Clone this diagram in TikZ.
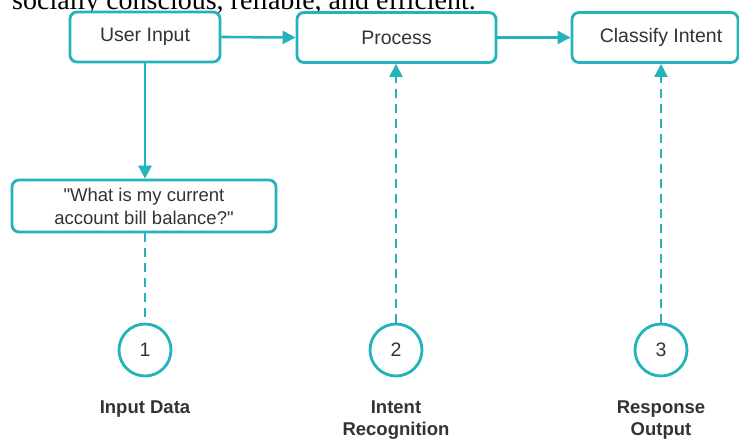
\documentclass[tikz,border=0pt]{standalone}
\usepackage{fontspec}
\setmainfont{Liberation Sans}
\newfontfamily\plainsans{Liberation Sans}
\newfontfamily\serifx{Liberation Serif}
\usetikzlibrary{arrows.meta}
\definecolor{teal1}{HTML}{22B3BC}
\definecolor{txt}{HTML}{333333}
\tikzset{
  box/.style={draw=teal1, line width=2.8pt, rounded corners=7pt, fill=white, text=txt, font=\fontsize{19.5}{23}\selectfont, align=center, inner sep=0pt},
  circ/.style={draw=teal1, line width=2.8pt, circle, minimum size=52pt, inner sep=0pt, text=txt, font=\fontsize{19.5}{23}\selectfont},
  lab/.style={text=txt, font=\bfseries\fontsize{18.5}{22}\selectfont, align=center, inner sep=0pt},
  conn/.style={draw=teal1, line width=2.6pt, -{Triangle[length=13pt,width=13pt]}},
  dconn/.style={draw=teal1, line width=2.4pt, dash pattern=on 9pt off 6pt},
}
\begin{document}
\begin{tikzpicture}[x=1pt,y=-1pt]
\useasboundingbox (0,0) rectangle (739,441);
\clip (0,0) rectangle (739,441);
\fill[white] (0,0) rectangle (739,441);
% clipped top text
\node[anchor=base west, inner sep=0pt, font=\serifx\fontsize{28}{30}\selectfont] (toptext) at (12,9.5) {socially conscious, reliable, and efficient.};
% boxes
\node[box, minimum width=150pt, minimum height=50pt] (ui) at (145,37) {User Input};
\node[box, minimum width=199pt, minimum height=50pt] (pr) at (396.5,37.5) {Process};
\node[box, minimum width=166pt, minimum height=50pt] (ci) at (655,37.5) {\hspace*{12pt}Classify Intent};
\node[box, font=\plainsans\fontsize{18.5}{23}\selectfont, minimum width=264pt, minimum height=52pt] (q) at (144,206) {"What is my current\\account bill balance?"};
% circles
\node[circ] (c1) at (145,350) {1};
\node[circ] (c2) at (396,350) {2};
\node[circ] (c3) at (661,350) {3};
% labels
\node[lab, anchor=north] (l1) at (145,401) {Input Data};
\node[lab, anchor=north] (l2) at (396,401) {Intent\\Recognition};
\node[lab, anchor=north] (l3) at (661,401) {Response\\Output};
% connectors
\draw[conn] (ui.east) -- (pr.west);
\draw[conn] (pr.east) -- (ci.west);
\draw[conn] (ui.south) -- (q.north -| ui.south);
\draw[dconn] (q.south -| c1.north) -- (c1.north);
\draw[dconn, -{Triangle[length=13pt,width=13pt]}] (c2.north) -- (c2.north |- pr.south);
\draw[dconn, -{Triangle[length=13pt,width=13pt]}] (c3.north) -- (c3.north |- ci.south);
\end{tikzpicture}
\end{document}
